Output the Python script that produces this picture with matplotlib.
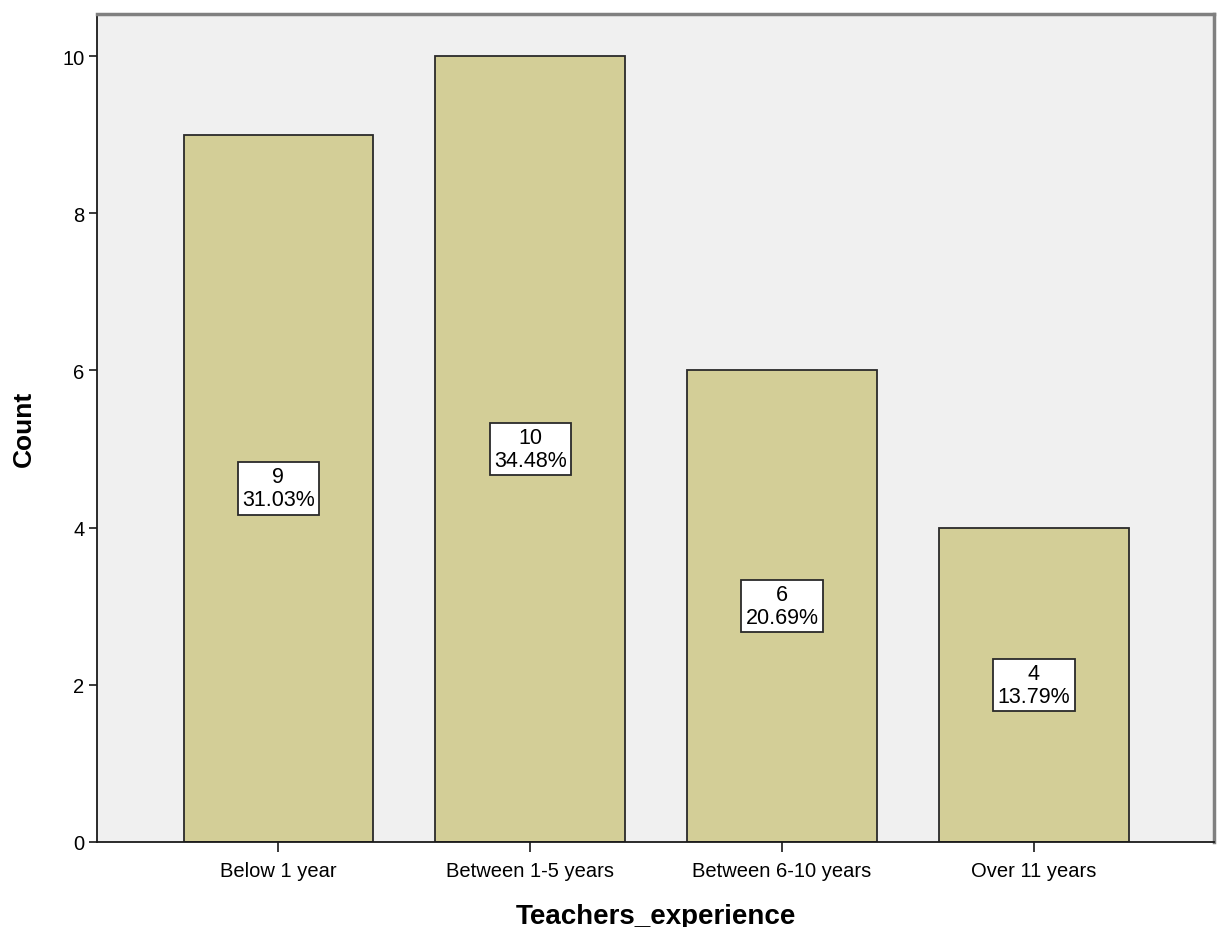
import matplotlib
matplotlib.use("Agg")
import matplotlib.pyplot as plt

categories = ["Below 1 year", "Between 1-5 years", "Between 6-10 years", "Over 11 years"]
counts = [9, 10, 6, 4]
percents = ["31.03%", "34.48%", "20.69%", "13.79%"]

fig = plt.figure(figsize=(12.21, 9.28), dpi=100)
ax = fig.add_axes([0.0794, 0.0916, 0.9149, 0.8922])
ax.set_facecolor("#f0f0f0")
x = list(range(len(categories)))
ax.bar(x, counts, width=0.752, color="#d3ce97", edgecolor="#2a2a2a", linewidth=1.3, zorder=2)
for xi, c, p in zip(x, counts, percents):
    ax.text(xi, c / 2, f"{c}\n{p}", ha="center", va="center", fontsize=15.5,
            family="Liberation Sans", linespacing=1.12,
            bbox=dict(boxstyle="square,pad=0.2", facecolor="white", edgecolor="#2a2a2a", linewidth=1.3),
            zorder=3)
ax.set_xlim(-0.72, 3.715)
ax.set_ylim(0, 10.534)
ax.set_xticks(x)
ax.set_xticklabels(categories, fontsize=14.5, family="Liberation Sans")
ax.set_yticks([0, 2, 4, 6, 8, 10])
ax.set_yticklabels(["0", "2", "4", "6", "8", "10"], fontsize=14.5, family="Liberation Sans")
ax.tick_params(axis="x", length=7, width=1.3, color="#2a2a2a", pad=7)
ax.tick_params(axis="y", length=6, width=1.3, color="#2a2a2a", pad=3)
for s in ["left", "bottom"]:
    ax.spines[s].set_color("#1a1a1a")
    ax.spines[s].set_linewidth(1.3)
for s in ["top", "right"]:
    ax.spines[s].set_color("#808080")
    ax.spines[s].set_linewidth(2.5)
ax.set_xlabel("Teachers_experience", fontsize=20, fontweight="bold", family="Liberation Sans", labelpad=16)
ax.set_ylabel("Count", fontsize=19, fontweight="bold", family="Liberation Sans", labelpad=19)
fig.savefig("out.png", dpi=100)
